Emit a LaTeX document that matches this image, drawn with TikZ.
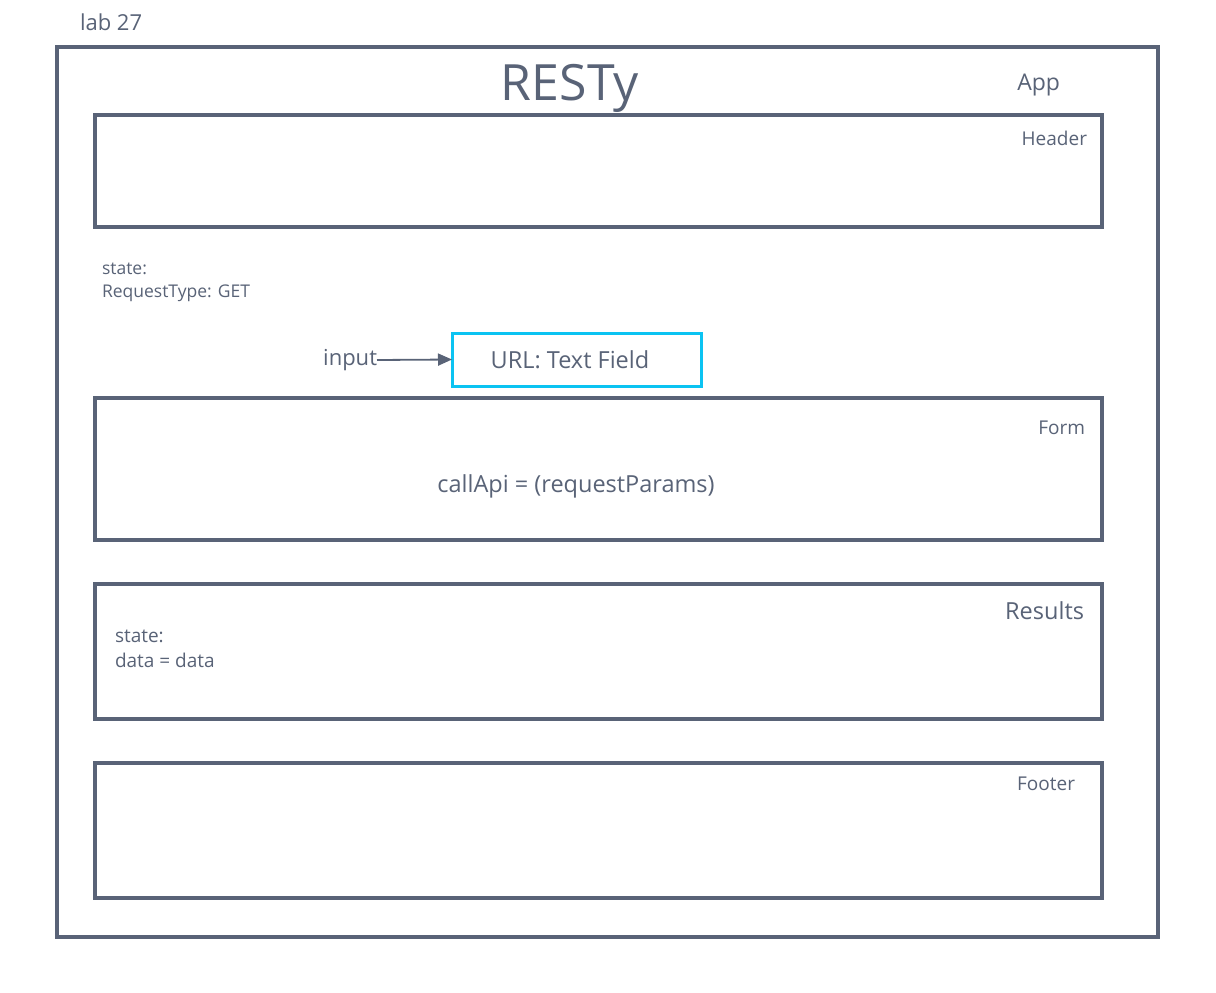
\documentclass[tikz,border=0pt]{standalone}
\usepackage{fontspec}
\setmainfont{Open Sans}
\usetikzlibrary{positioning}
\usetikzlibrary{arrows.meta}
\definecolor{slate}{HTML}{596377}
\definecolor{fieldblue}{HTML}{0BC3F2}
\tikzset{
	every node/.style = {text=slate, inner sep=0pt, outer sep=0pt},
	box/.style = {draw=slate, line width=3.6pt, rectangle, anchor=north west, minimum width=1007pt},
	tag/.style = {anchor=east, font=\fontsize{19}{23}\selectfont}
}

\begin{document}
\begin{tikzpicture}[x=1pt,y=-1pt]
		\useasboundingbox[fill=white] (0,0) rectangle (1216,993);
		% outer component
		\node[box, line width=4pt, minimum width=1101pt, minimum height=890pt] (app) at (57,47) {};
		\node[anchor=west, font=\fontsize{22}{26}\selectfont] (lab) at (80,22) {lab 27};
		\node[font=\fontsize{50}{60}\selectfont] (title) at (570,88) {RESTy};
		\node[tag, font=\fontsize{23}{27}\selectfont] (applbl) at ([shift={(-98,38)}]app.north east) {App};
		
		% children
		\node[box, minimum height=112pt] (header) at (95,115) {};
		\node[box, minimum height=142pt] (form) at (95,398) {};
		\node[box, minimum height=135pt] (results) at (95,584) {};
		\node[box, minimum height=135pt] (footer) at (95,763) {};
		
		\node[tag] (headerlbl) at ([shift={(-15,23)}]header.north east) {Header};
		\node[tag] (formlbl) at ([shift={(-17,30)}]form.north east) {Form};
		\node[tag, font=\fontsize{23.5}{27}\selectfont] (resultslbl) at ([shift={(-18,27)}]results.north east) {Results};
		\node[tag] (footerlbl) at ([shift={(-27,21)}]footer.north east) {Footer};
		
		% state
		\node[anchor=north west, align=left, font=\fontsize{17.5}{23}\selectfont] (appstate) at (102,263) {state:\\RequestType: GET};
		\node[anchor=north west, align=left, font=\fontsize{19}{25}\selectfont] (resstate) at (115,630) {state:\\data = data};
		\node[font=\fontsize{23.5}{28}\selectfont] (callapi) at (576,486) {callApi = (requestParams)};
		
		% input
		\node[draw=fieldblue, line width=3pt, minimum width=249pt, minimum height=53pt] (url) at (576.5,359.5) {};
		\node[font=\fontsize{23.5}{28}\selectfont] (urltext) at (570,360) {URL: Text Field};
		\node[anchor=east, font=\fontsize{22}{26}\selectfont] (input) at (377,360) {input};
		\draw[slate, line width=1.8pt, -{Triangle[length=14pt,width=12pt]}] (input.east) -- (url.west);
	\end{tikzpicture}
\end{document}
